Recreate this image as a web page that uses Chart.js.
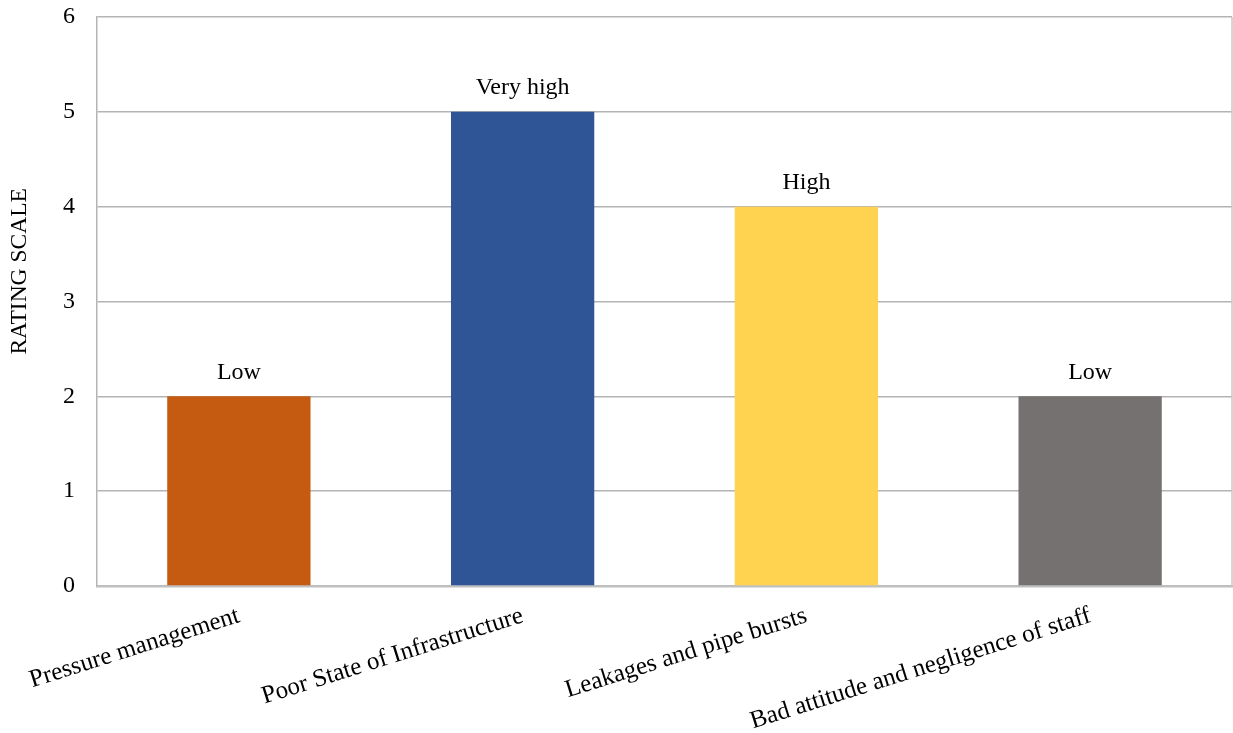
<!DOCTYPE html>
<html>
<head>
<meta charset="utf-8">
<script src="https://cdn.jsdelivr.net/npm/chart.js@4"></script>
<style>
  html, body { margin: 0; padding: 0; background: #fff; }
  #wrap { width: 1233px; height: 733px; }
</style>
</head>
<body>
<div id="wrap"><canvas id="chart"></canvas></div>
<script>
const categories = ['Pressure management', 'Poor State of Infrastructure', 'Leakages and pipe bursts', 'Bad attitude and negligence of staff'];
const ratings = [2, 5, 4, 2];
const ratingLabels = ['Low', 'Very high', 'High', 'Low'];
const barColors = ['#C55A11', '#2F5597', '#FFD34F', '#767171'];
const yTitle = 'RATING SCALE';

const serif = "'Liberation Serif', 'Times New Roman', serif";

// right edge of the plot frame + y axis title
const framePlugin = {
  id: 'frame',
  afterDraw(chart) {
    const { ctx, chartArea: a } = chart;
    ctx.save();
    ctx.strokeStyle = '#c8c8c8';
    ctx.lineWidth = 1.5;
    ctx.beginPath();
    ctx.moveTo(a.right, a.top);
    ctx.lineTo(a.right, a.bottom);
    ctx.stroke();

    ctx.translate(20, a.top + (a.bottom - a.top) * 0.447);
    ctx.rotate(-Math.PI / 2);
    ctx.font = '23.5px ' + serif;
    ctx.fillStyle = '#000';
    ctx.textAlign = 'center';
    ctx.textBaseline = 'middle';
    ctx.fillText(yTitle, 0, 0);
    ctx.restore();
  }
};

// text labels above bars
const valueLabels = {
  id: 'valueLabels',
  afterDatasetsDraw(chart) {
    const { ctx } = chart;
    const meta = chart.getDatasetMeta(0);
    ctx.save();
    ctx.font = '24px ' + serif;
    ctx.fillStyle = '#000';
    ctx.textAlign = 'center';
    ctx.textBaseline = 'bottom';
    meta.data.forEach((bar, i) => {
      ctx.fillText(ratingLabels[i], bar.x, bar.y - 12);
    });
    ctx.restore();
  }
};

new Chart(document.getElementById('chart'), {
  type: 'bar',
  data: {
    labels: categories,
    datasets: [{
      data: ratings,
      backgroundColor: barColors,
      barPercentage: 0.505,
      categoryPercentage: 1
    }]
  },
  options: {
    responsive: true,
    maintainAspectRatio: false,
    animation: false,
    layout: { padding: { top: 17, right: 1, left: 0, bottom: 0 } },
    plugins: {
      legend: { display: false },
      tooltip: { enabled: false }
    },
    scales: {
      x: {
        grid: { display: false },
        border: { color: '#bfbfbf', width: 2.5 },
        ticks: {
          color: '#000',
          font: { family: serif, size: 25 },
          minRotation: 17.5,
          maxRotation: 17.5,
          padding: 7
        },
        afterFit(scale) {
          scale.height = 147;
          scale.paddingLeft = 0;
          scale.paddingRight = 0;
        }
      },
      y: {
        min: 0,
        max: 6,
        ticks: {
          stepSize: 1,
          color: '#000',
          font: { family: serif, size: 24 },
          padding: 22
        },
        grid: { color: '#b4b4b4', lineWidth: 1.5, drawTicks: false },
        border: { color: '#b4b4b4', width: 1.5 },
        afterFit(scale) {
          scale.width = 97;
          scale.paddingTop = 0;
          scale.paddingBottom = 0;
        }
      }
    }
  },
  plugins: [framePlugin, valueLabels]
});
</script>
</body>
</html>
